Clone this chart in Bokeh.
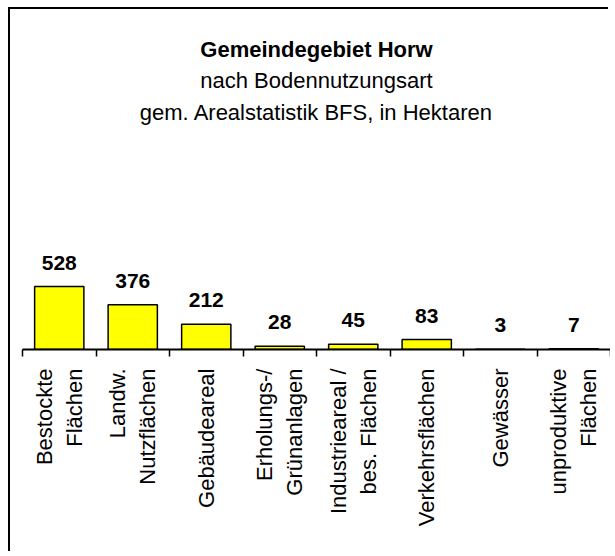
import math
from bokeh.plotting import figure
from bokeh.models import (Range1d, LinearAxis, FixedTicker, Title, LabelSet,
                          ColumnDataSource)
from bokeh.core.properties import value
from bokeh.embed import file_html
from bokeh.resources import INLINE

# ---- data ----
categories = ["Bestockte\nFlächen", "Landw.\nNutzflächen", "Gebäudeareal",
              "Erholungs-/\nGrünanlagen", "Industrieareal /\nbes. Flächen",
              "Verkehrsflächen", "Gewässer", "unproduktive\nFlächen"]
values = [528, 376, 212, 28, 45, 83, 3, 7]
title_main = "Gemeindegebiet Horw"
title_sub1 = "nach Bodennutzungsart"
title_sub2 = "gem. Arealstatistik BFS, in Hektaren"

FONT = "Liberation Sans"
n = len(categories)
centers = [i + 0.5 for i in range(n)]        # slot centres on a 0..n scale
bounds = list(range(n + 1))                  # slot boundaries (tick marks)

src = ColumnDataSource(dict(x=centers, val=values,
                            lbl=[str(v) for v in values]))

p = figure(x_range=Range1d(0, n),
           y_range=Range1d(0, 1869),
           width=600, height=544,
           output_backend="svg", toolbar_location=None,
           x_axis_location=None, y_axis_location=None,
           min_border_left=12, min_border_right=0,
           min_border_top=117, min_border_bottom=204,
           outline_line_color=None,
           background_fill_color="white", border_fill_color="white")
for g in p.grid:
    g.visible = False
p.styles = {"margin-left": "10px", "margin-top": "9px",
            "box-shadow": "-2px -2px 0 0 black"}

p.vbar(x="x", top="val", width=0.67, source=src,
       fill_color="#FFFF00", line_color="black", line_width=1.5)

labels = LabelSet(x="x", y="val", text="lbl", source=src,
                  text_align="center", text_baseline="alphabetic",
                  y_offset=17, text_font_size="21px",
                  text_font_style="bold", text_font=value(FONT),
                  text_color="black")
p.add_layout(labels)

# axis line with tick marks at the slot boundaries
ax1 = LinearAxis(ticker=FixedTicker(ticks=bounds),
                 major_label_overrides={b: "" for b in bounds},
                 major_tick_out=7, major_tick_in=0,
                 minor_tick_out=0, minor_tick_in=0,
                 major_tick_line_width=1.5, axis_line_width=2,
                 axis_line_color="black", major_tick_line_color="black",
                 major_label_text_font_size="1px", major_label_standoff=0)
p.add_layout(ax1, "below")

# category labels at the slot centres
ax2 = LinearAxis(ticker=FixedTicker(ticks=centers),
                 major_label_overrides={c: lab for c, lab in zip(centers, categories)},
                 axis_line_color=None, major_tick_line_color=None,
                 minor_tick_line_color=None,
                 major_tick_out=0, major_tick_in=0,
                 minor_tick_out=0, minor_tick_in=0,
                 major_label_orientation=math.pi / 2,
                 major_label_standoff=12,
                 major_label_text_font_size="22px",
                 major_label_text_font=FONT,
                 major_label_text_color="black")
p.add_layout(ax2, "below")

t3 = Title(text=title_sub2, align="center", text_font_size="22px",
           text_font_style="normal", text_font=FONT, text_color="black",
           standoff=4)
t2 = Title(text=title_sub1, align="center", text_font_size="22px",
           text_font_style="normal", text_font=FONT, text_color="black",
           standoff=5)
t1 = Title(text=title_main, align="center", text_font_size="22px",
           text_font_style="bold", text_font=FONT, text_color="black",
           standoff=3)
p.add_layout(t3, "above")
p.add_layout(t2, "above")
p.add_layout(t1, "above")

open("out.html", "w").write(file_html(p, INLINE))
